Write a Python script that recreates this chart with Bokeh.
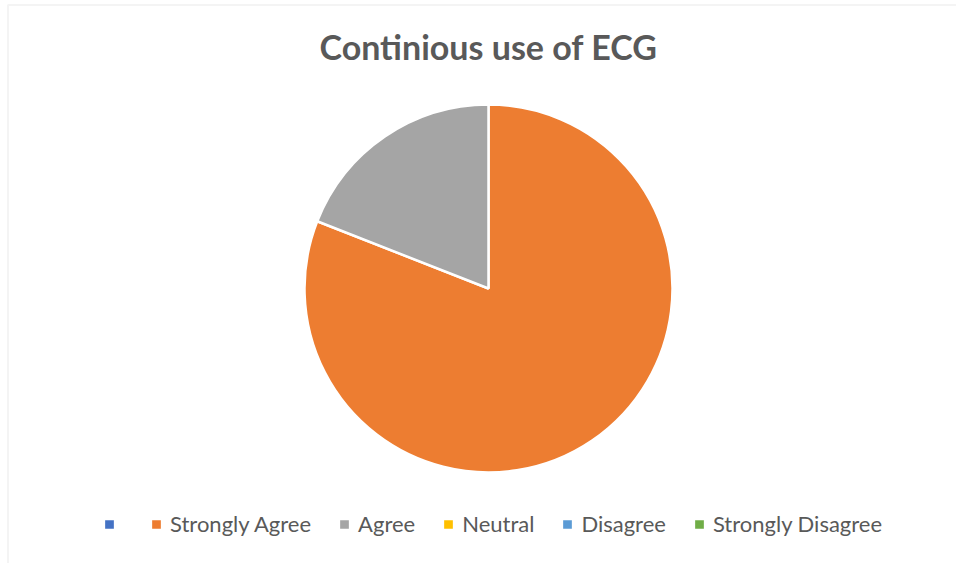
import math
from bokeh.plotting import figure
from bokeh.models import ColumnDataSource, Legend, LegendItem, Label, BoxAnnotation, Range1d
from bokeh.embed import file_html
from bokeh.resources import INLINE

# ---- data ----
categories = ["", "Strongly Agree", "Agree", "Neutral", "Disagree", "Strongly Disagree"]
counts = [0, 17, 4, 0, 0, 0]
colors = ["#4472C4", "#ED7D31", "#A5A5A5", "#FFC000", "#5B9BD5", "#70AD47"]
title_text = "Continious use of ECG"

total = sum(counts)
starts, ends = [], []
cum = 0.0
for c in counts:
    starts.append(math.pi / 2 - 2 * math.pi * cum / total)
    cum += c
    ends.append(math.pi / 2 - 2 * math.pi * cum / total)

W, H = 956, 563
p = figure(width=W, height=H, output_backend="svg", toolbar_location=None,
           x_range=Range1d(0, W), y_range=Range1d(0, H), min_border=0)
p.axis.visible = False
p.grid.visible = False
p.outline_line_color = None
p.background_fill_color = "white"
p.border_fill_color = "white"

# chart area border
p.add_layout(BoxAnnotation(left=7.5, right=W + 20, top=H - 4.5, bottom=-20,
                           fill_alpha=0, line_color="#d9d9d9", line_width=2))

cx, cy = 488, H - 288
items = []
for i, cat in enumerate(categories):
    rad = 184 if counts[i] > 0 else 0
    src = ColumnDataSource(dict(x=[cx], y=[cy], r=[rad], s=[starts[i]], e=[ends[i]]))
    r = p.wedge(x="x", y="y", radius="r", radius_units="screen",
                start_angle="s", end_angle="e", direction="clock",
                fill_color=colors[i], line_color="white", line_width=2.5,
                source=src)
    items.append(LegendItem(label=cat, renderers=[r]))

legend = Legend(items=items, orientation="horizontal", location=(102, 26),
                label_text_font="Lato", label_text_font_size="22px",
                label_text_color="#595959", glyph_width=14, glyph_height=14,
                label_standoff=7, label_width=0, spacing=26, padding=0, margin=0,
                border_line_color=None, background_fill_alpha=0)
p.add_layout(legend, "center")

p.add_layout(Label(x=488, y=H - 46, text=title_text, text_align="center",
                   text_baseline="middle", text_font="Lato",
                   text_font_size="34px", text_font_style="bold",
                   text_color="#595959"))

open("out.html", "w").write(file_html(p, INLINE))
